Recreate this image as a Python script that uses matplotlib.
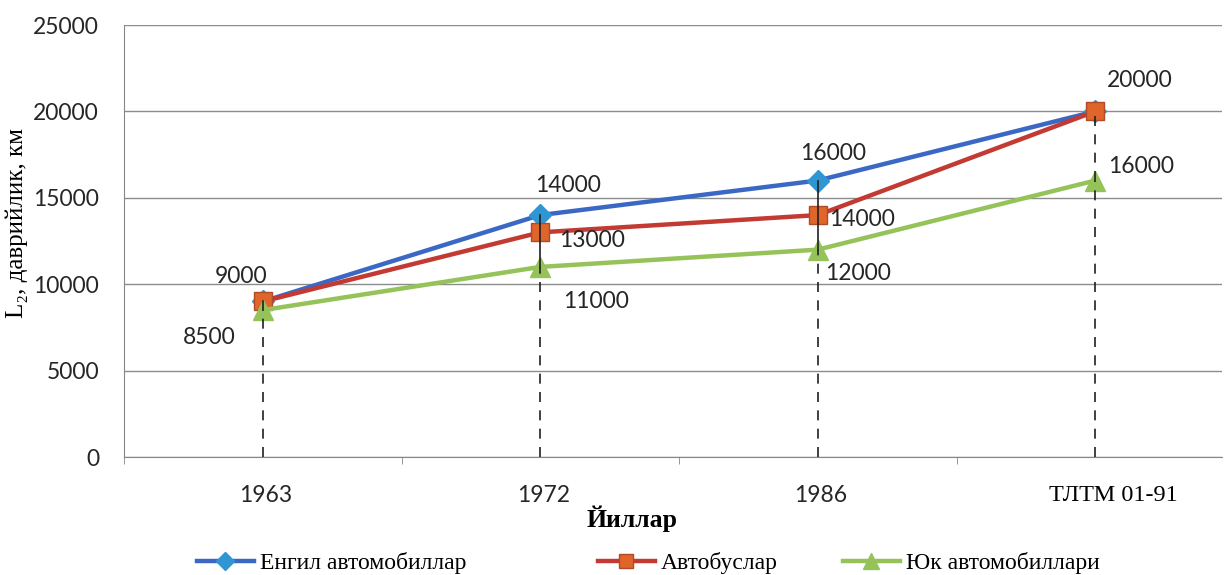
import matplotlib.pyplot as plt
from matplotlib.transforms import ScaledTranslation

# periodicity of maintenance, km, by year of the standard
categories = ["1963", "1972", "1986", "ТЛТМ 01-91"]
cars = [9000, 14000, 16000, 20000]
buses = [9000, 13000, 14000, 20000]
trucks = [8500, 11000, 12000, 16000]

series_names = ["Енгил автомобиллар", "Автобуслар", "Юк автомобиллари"]
series_values = [cars, buses, trucks]

# value label offsets in pixels (dx, dy), one per point
label_offsets = [
    [(-22, 25), (28, 30), (15, 27), (45, 31)],
    [None, (52, -8), (44, -4), None],
    [(-53, -27), (56, -35), (40, -24), (46, 14)],
]

W, H = 1225, 575
fig = plt.figure(figsize=(W / 100, H / 100), dpi=100)
ax = fig.add_axes([124 / W, 1 - 457 / H, (1222 - 124) / W, (457 - 25) / H])

x = list(range(len(categories)))

styles = [
    dict(color="#3b68c4", marker="D", markersize=11, markerfacecolor="#2f96d3",
         markeredgecolor="#2f96d3"),
    dict(color="#c33a33", marker="s", markersize=13, markerfacecolor="#e0652a",
         markeredgecolor="#b04a28"),
    dict(color="#95c35a", marker="^", markersize=14, markerfacecolor="#95c35a",
         markeredgecolor="#95c35a"),
]

handles = []
for name, vals, st in zip(series_names, series_values, styles):
    ln, = ax.plot(x, vals, lw=3.2, label=name, zorder=3, **st)
    handles.append(ln)

# drop lines: solid between series, dashed down to the axis
for i in x:
    hi = max(v[i] for v in series_values)
    lo = min(v[i] for v in series_values)
    last = i == len(categories) - 1
    ax.plot([i, i], [lo, hi], color="#202020", lw=1.2,
            ls=(0, (6, 5)) if last else "-", zorder=4)
    ax.plot([i, i], [0, lo], color="#202020", lw=1.2, ls=(0, (6, 5)), zorder=4)

for vals, offs in zip(series_values, label_offsets):
    for i, (v, off) in enumerate(zip(vals, offs)):
        if off is None:
            continue
        ax.annotate(f"{v}", (i, v), xytext=off, textcoords="offset pixels",
                    ha="center", va="center", fontsize=16.5, family="Lato",
                    color="#262626", zorder=5)

ax.set_ylim(0, 25000)
ax.set_yticks(range(0, 25001, 5000))
ax.set_xticks(x)
ax.set_xticklabels(categories, family="Lato", fontsize=16.5, color="#262626")
ax.set_xticks([-0.5, 0.5, 1.5, 2.5, 3.5], minor=True)
ax.set_xlim(-0.5, 3.5 - (1234 - 1222) / 277.5)
ax.tick_params(axis="x", which="major", length=0, pad=20)
ax.tick_params(axis="x", which="minor", length=5, color="#868686")
ax.tick_params(axis="y", length=0, pad=18)
for lab in ax.get_yticklabels():
    lab.set_family("Lato")
    lab.set_fontsize(16.5)
    lab.set_color("#262626")

# the standard's name is set in serif and sits a little right of its tick
xl = ax.get_xticklabels()
for lab in xl[:3]:
    lab.set_transform(lab.get_transform() + ScaledTranslation(0.03, 0, fig.dpi_scale_trans))
xl[3].set_family("Liberation Serif")
xl[3].set_fontsize(17.5)
xl[3].set_color("black")
xl[3].set_transform(xl[3].get_transform() + ScaledTranslation(0.18, 0, fig.dpi_scale_trans))

ax.yaxis.grid(True, color="#8c8c8c", lw=1)
ax.set_axisbelow(True)
for side in ("top", "right"):
    ax.spines[side].set_visible(False)
for side in ("left", "bottom"):
    ax.spines[side].set_color("#868686")

fig.text(632 / W, 1 - 519 / H, "Йиллар", ha="center", va="center",
         family="Liberation Serif", fontsize=18.5, fontweight="bold")
fig.text(17 / W, 1 - 223 / H, "L₂, даврийлик, км", ha="center", va="center",
         rotation=90, family=["Liberation Serif", "DejaVu Serif"], fontsize=18)

# legend entries placed individually along the bottom
legend_x = [197, 598, 843]
for h, name, lx in zip(handles, series_names, legend_x):
    fig.legend([h], [name], loc="center left",
               bbox_to_anchor=(lx / W, 1 - 563 / H), frameon=False,
               prop=dict(family="Liberation Serif", size=17),
               handlelength=2.4, handletextpad=0.25, borderpad=0, borderaxespad=0,
               markerscale=0.8)

fig.savefig("out.png", dpi=100)
